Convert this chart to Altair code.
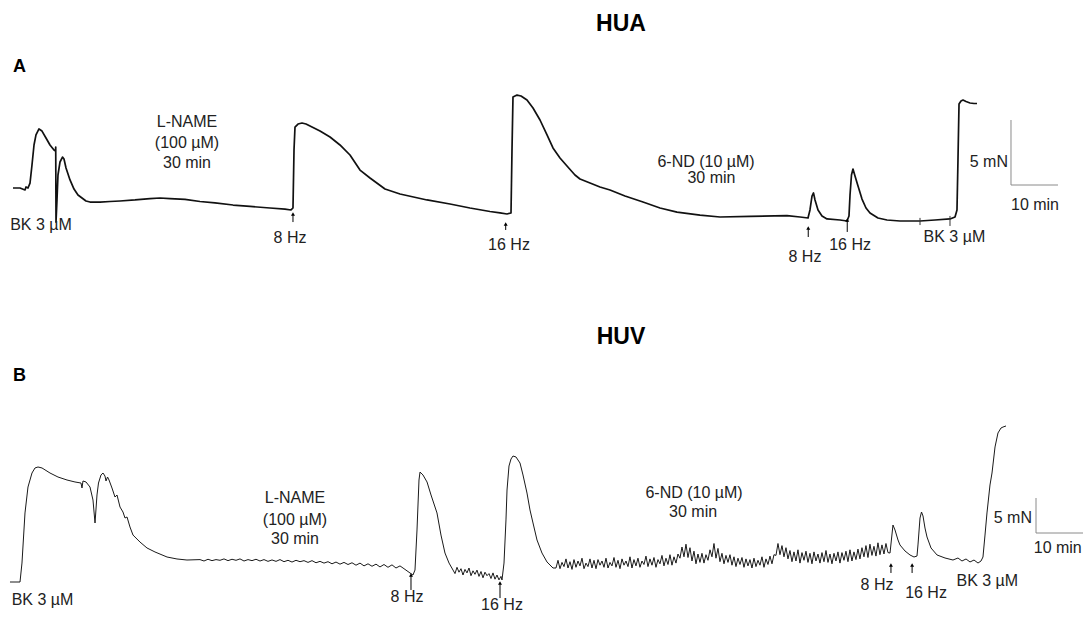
import altair as alt
import pandas as pd

# ---------------- HUA (panel A): time (min), tension (mN, relative to start) ----------------
hua_trace = [
    (0, 0), (1.49, 0), (2.55, -0.15), (2.77, 0.08), (3.19, 0), (3.62, 0.38), (4.04, 1.77),
    (4.47, 3.31), (4.89, 4.08), (5.53, 4.54), (6.17, 4.38), (7.02, 3.85), (7.87, 3.31),
    (8.72, 2.92), (9.04, 2.85), (9.09, 3.15), (9.15, -2.62), (9.36, -0.92), (9.57, 1.0),
    (10.0, 2.0), (10.53, 2.38), (10.85, 2.23), (11.28, 1.54), (12.13, 0.62), (12.98, -0.08),
    (13.83, -0.54), (14.68, -0.77), (15.53, -1.0), (16.38, -1.08), (18.51, -1.08),
    (20.64, -1.04), (22.77, -1.0), (25.96, -0.92), (29.15, -0.81), (31.28, -0.77),
    (33.40, -0.81), (36.60, -0.88), (39.79, -1.04), (42.98, -1.15), (46.81, -1.31),
    (50.43, -1.42), (54.68, -1.54), (57.87, -1.62), (59.15, -1.69), (59.57, -1.54),
    (59.79, 2.92), (60.0, 4.69), (60.64, 4.92), (61.49, 5.0), (62.34, 4.92), (63.62, 4.69),
    (65.32, 4.38), (67.45, 3.92), (69.57, 3.31), (71.70, 2.54), (73.83, 1.38), (75.96, 0.77),
    (79.15, -0.08), (82.34, -0.46), (88.09, -0.92), (92.98, -1.23), (97.23, -1.54),
    (101.49, -1.81), (103.62, -1.92), (105.11, -2.0), (105.96, -1.92), (106.17, 2.92),
    (106.38, 7.0), (107.23, 7.15), (108.09, 7.08), (109.36, 6.77), (110.64, 6.15),
    (112.13, 5.23), (113.62, 4.08), (114.89, 3.08), (116.38, 2.31), (117.87, 1.69),
    (119.57, 1.0), (120.64, 0.69), (122.77, 0.38), (124.89, 0.08), (127.02, -0.15),
    (130.21, -0.62), (134.04, -1.08), (137.66, -1.54), (141.28, -1.85), (146.17, -2.08),
    (150.43, -2.23), (156.81, -2.19), (164.68, -2.12), (167.45, -2.23), (169.15, -2.31),
    (169.57, -1.69), (170.0, -0.62), (170.32, -0.38), (170.64, -0.92), (171.28, -1.69),
    (172.13, -2.15), (173.19, -2.38), (175.96, -2.46), (177.45, -2.54), (177.87, -2.15),
    (178.09, -0.54), (178.40, 1.0), (178.72, 1.46), (179.15, 0.92), (179.79, 0.15),
    (180.64, -0.85), (181.49, -1.54), (182.34, -1.92), (184.04, -2.31), (185.96, -2.46),
    (188.72, -2.54), (192.98, -2.54), (196.17, -2.46), (199.36, -2.38), (200.43, -2.23),
    (200.85, -1.69), (201.06, 2.15), (201.28, 6.46), (201.70, 6.69), (202.13, 6.77),
    (202.77, 6.65), (203.62, 6.54), (204.47, 6.5), (205.11, 6.5),
]

hua_labels = [  # centred labels: (t, v, text)
    (5.96, -2.85, "BK 3 µM"),
    (37.02, 5.08, "L-NAME"), (37.02, 3.46, "(100 µM)"), (37.02, 1.92, "30 min"),
    (58.94, -3.85, "8 Hz"), (105.53, -4.38, "16 Hz"),
    (147.45, 2.0, "6-ND (10 µM)"), (148.6, 0.77, "30 min"),
    (168.5, -5.31, "8 Hz"), (178.1, -4.38, "16 Hz"), (200.3, -3.77, "BK 3 µM"),
    (217.45, -1.31, "10 min"),
]
hua_right_labels = [(211.7, 2.0, "5 mN")]
hua_title = [(129.36, 12.62, "HUA")]
hua_panel = [(0, 9.31, "A")]
hua_arrows = [(59.57, -2.62, -2.0), (104.83, -3.23, -2.77), (169.2, -3.77, -3.08), (177.5, -3.38, -2.46)]
hua_ticks = [(192.98, -2.85, -2.3), (199.36, -2.92, -2.15)]
hua_bar_v = [(212.34, 0.23, 5.23)]       # 5 mN
hua_bar_h = [(212.34, 222.34, 0.23)]     # 10 min

# ---------------- HUV (panel B) ----------------
huv_rise = [
    (-0.64, 0), (1.49, 0), (1.91, 2.71), (2.55, 9.86), (3.19, 13.57), (4.04, 15.57),
    (4.68, 16.29), (5.32, 16.43), (6.17, 16.29), (7.87, 15.57), (9.57, 15.0), (11.49, 14.57),
    (13.19, 14.29), (14.47, 14.14), (14.68, 13.43), (14.89, 14.43), (15.53, 14.29),
    (16.38, 13.57), (17.02, 11.71), (17.45, 8.43), (17.87, 12.43), (18.19, 14.14),
    (18.72, 15.29), (19.15, 15.57), (19.57, 15.14), (19.79, 14.43), (20.11, 15.0),
    (20.43, 14.57), (21.06, 13.43), (21.70, 12.14), (22.13, 12.43), (22.77, 10.71),
    (23.40, 10.0), (23.83, 9.14), (24.26, 9.29), (24.89, 7.86), (25.53, 6.71), (27.02, 5.71),
    (28.51, 4.86), (30.21, 4.29), (32.77, 3.57), (34.89, 3.29), (37.02, 3.14),
]
# uniformly sampled stretches of the recording: (start min, step min, values)
huv_noise1 = (39.79, 0.851, [
    3.2, 3.0, 3.25, 3.05, 3.2, 3.1, 3.3, 3.05, 3.25, 3.1,
    3.3, 3.0, 3.2, 3.05, 3.25, 3.0, 3.2, 2.95, 3.15, 2.95,
    3.2, 2.9, 3.1, 2.85, 3.1, 2.9, 3.05, 2.8, 3.05, 2.75,
    2.95, 2.7, 2.9, 2.6, 2.85, 2.55, 2.8, 2.5, 2.75, 2.4,
    2.7, 2.3, 2.6, 2.25, 2.55, 2.15, 2.5, 2.1, 2.45, 2.0,
    2.3, 1.9])
huv_8hz = [
    (84.47, 1.29), (85.1, 1.0), (85.53, 1.71), (85.96, 7.43), (86.38, 14.57), (86.6, 15.71),
    (87.23, 15.29), (88.09, 14.29), (88.94, 12.43), (90.21, 9.86), (91.06, 6.71),
    (91.91, 4.14), (92.77, 2.71), (93.62, 1.71),
]
huv_noise2 = (94.04, 0.4255, [
    1.2, 2.1, 1.4, 1.9, 1.0, 1.8, 1.3, 2.0, 0.9, 1.6, 1.1, 1.7,
    0.8, 1.5, 0.6, 1.4, 0.9, 1.2, 0.5, 1.3, 0.4, 1.0, 0.3, 0.8])
huv_16hz = [
    (104.04, 0.29), (104.47, 2.71), (104.89, 8.86), (105.11, 13.14), (105.53, 16.57),
    (105.96, 17.57), (106.38, 18.0), (107.02, 17.86), (107.87, 17.0), (108.51, 15.29),
    (109.36, 12.71), (110.0, 10.29), (110.64, 8.43), (111.49, 6.0), (112.55, 4.14),
    (113.62, 2.86), (114.89, 2.0),
]
huv_noise3 = (115.53, 0.4255, [
    2.0, 3.1, 1.9, 2.8, 2.2, 3.3, 2.0, 2.9, 1.8, 3.2,
    2.1, 3.0, 2.3, 3.4, 1.9, 2.7, 2.2, 3.3, 2.0, 3.1,
    1.9, 3.2, 2.4, 3.0, 2.1, 3.4, 2.0, 2.8, 2.3, 3.5,
    2.1, 3.1, 1.9, 3.3, 2.4, 3.0, 2.2, 3.6, 2.0, 3.2,
    2.3, 3.4, 2.1, 3.0, 2.5, 3.7, 2.2, 3.3, 2.4, 3.5,
    2.1, 3.2, 2.6, 3.8, 2.3, 3.4, 2.5, 3.9, 2.4, 3.6,
    2.7, 4.0,
    3.4, 5.0, 3.6, 5.4, 3.5, 4.9, 3.0, 4.4, 2.6, 4.0,
    2.8, 4.1, 2.7, 3.9, 3.1, 4.6, 3.6, 5.5, 3.4, 4.8,
    2.9, 4.1, 2.6, 3.8, 2.8, 3.9, 2.4, 3.6, 2.2, 3.4,
    2.5, 3.5, 2.1, 3.3, 2.3, 3.2, 2.0, 3.4, 2.2, 3.1,
    2.4, 3.6, 2.1, 3.3, 2.5, 3.7, 2.6, 3.9,
    3.8, 5.5, 3.9, 5.2, 3.6, 4.9, 3.3,
    4.5, 2.9, 4.3, 3.0, 4.6, 2.7, 4.2, 3.1, 4.4, 2.8,
    4.1, 2.6, 4.3, 3.0, 4.0, 2.7, 4.2, 2.9, 4.5, 2.8,
    4.0, 2.6, 4.1, 3.0, 4.3, 2.7, 4.2, 3.1, 4.4, 2.9,
    4.6, 3.0, 4.3, 3.2, 4.7,
    3.3, 4.9, 3.6, 5.2, 3.5, 5.4, 3.8, 5.1, 3.7, 5.6,
    3.9, 5.3, 4.0, 5.5, 4.2])
huv_end = [
    (186.6, 4.14), (187.23, 8.14), (187.66, 7.43), (188.3, 6.0), (188.72, 5.29), (189.79, 4.43),
    (190.85, 3.86), (191.70, 3.57), (192.34, 3.71), (192.55, 5.29), (192.98, 9.14),
    (193.30, 10.0), (193.62, 9.43), (194.04, 7.71), (194.47, 6.43), (195.32, 4.86),
    (196.6, 3.86), (198.3, 3.43), (200.0, 3.14), (201.06, 3.43), (201.91, 3.0), (202.77, 3.29),
    (203.62, 2.86), (204.47, 3.14), (205.32, 2.71), (205.96, 3.0), (206.38, 3.57),
    (206.81, 6.71), (207.23, 9.86), (207.87, 13.86), (208.3, 15.57), (208.94, 19.29),
    (209.57, 21.29), (210.21, 22.0), (210.64, 22.14), (211.28, 22.29),
]

huv_labels = [
    (6.28, -2.57, "BK 3 µM"),
    (60.0, 12.0, "L-NAME"), (60.0, 8.86, "(100 µM)"), (60.0, 6.14, "30 min"),
    (83.83, -2.14, "8 Hz"),
    (144.9, 12.71, "6-ND (10 µM)"), (144.7, 10.0, "30 min"),
    (183.83, -0.43, "8 Hz"), (194.26, -1.57, "16 Hz"), (207.3, 0.14, "BK 3 µM"),
]
huv_bottom_labels = [(104.04, -4.45, "16 Hz")]
huv_right_labels = [(216.8, 9.14, "5 mN"), (227.4, 4.86, "10 min")]
huv_title = [(129.36, 35.0, "HUV")]
huv_panel = [(0, 29.43, "B")]
huv_arrows = [(84.68, -1.14, 1.0), (103.62, -2.29, -0.14), (186.8, 1.29, 2.43), (191.3, 1.29, 2.43)]
huv_ticks = []
huv_bar_v = [(217.66, 7.0, 12.0)]
huv_bar_h = [(217.66, 227.66, 7.0)]

FONT = "Liberation Sans"
X_SCALE = alt.Scale(domain=[-1.064, 227.66], nice=False, zero=False)


def sampled(seg):
    start, step, vals = seg
    return [(start + i * step, v) for i, v in enumerate(vals)]


def text_df(rows):
    return pd.DataFrame(rows, columns=["t", "v", "label"])


def build_panel(trace, ydom, width, labels, right_labels, bottom_labels, title, panel,
                arrows, ticks, bar_v, bar_h, line_color):
    ys = alt.Scale(domain=ydom, nice=False, zero=False)
    X = lambda: alt.X("t:Q", scale=X_SCALE, axis=None)
    Y = lambda: alt.Y("v:Q", scale=ys, axis=None)

    tr = pd.DataFrame(trace, columns=["t", "v"])
    tr["i"] = range(len(tr))
    layers = [
        alt.Chart(tr).mark_line(color=line_color, strokeWidth=width, strokeJoin="round")
        .encode(x=X(), y=Y(), order="i:Q")
    ]

    def txt(rows, **kw):
        base = dict(font=FONT, fontSize=16, color="#222222")
        base.update(kw)
        return alt.Chart(text_df(rows)).mark_text(**base).encode(x=X(), y=Y(), text="label:N")

    layers.append(txt(labels, align="center", baseline="middle"))
    if right_labels:
        layers.append(txt(right_labels, align="right", baseline="middle"))
    if bottom_labels:
        layers.append(txt(bottom_labels, align="center", baseline="bottom"))
    layers.append(txt(title, align="center", baseline="middle", fontSize=23, fontWeight="bold", color="black"))
    layers.append(txt(panel, align="left", baseline="middle", fontSize=18, fontWeight="bold", color="black"))

    ar = pd.DataFrame(arrows, columns=["t", "v", "v2"])
    layers.append(alt.Chart(ar).mark_rule(color="black", strokeWidth=1)
                  .encode(x=X(), y=Y(), y2="v2:Q"))
    layers.append(alt.Chart(ar).mark_point(shape="triangle-up", filled=True, size=16, color="black", opacity=1)
                  .encode(x=X(), y=alt.Y("v2:Q", scale=ys, axis=None)))
    if ticks:
        tk = pd.DataFrame(ticks, columns=["t", "v", "v2"])
        layers.append(alt.Chart(tk).mark_rule(color="#333333", strokeWidth=1)
                      .encode(x=X(), y=Y(), y2="v2:Q"))

    bv = pd.DataFrame(bar_v, columns=["t", "v", "v2"])
    layers.append(alt.Chart(bv).mark_rule(color="#8a8a8a", strokeWidth=1)
                  .encode(x=X(), y=Y(), y2="v2:Q"))
    bh = pd.DataFrame(bar_h, columns=["t", "t2", "v"])
    layers.append(alt.Chart(bh).mark_rule(color="#8a8a8a", strokeWidth=1)
                  .encode(x=X(), x2="t2:Q", y=Y()))
    return alt.layer(*layers)


panel_a = build_panel(hua_trace, [-32.769, 13.846], 1.7, hua_labels, hua_right_labels, None,
                      hua_title, hua_panel, hua_arrows, hua_ticks, hua_bar_v, hua_bar_h, "#111111")

huv_trace = (huv_rise + sampled(huv_noise1) + huv_8hz + sampled(huv_noise2)
             + huv_16hz + sampled(huv_noise3) + huv_end)
panel_b = build_panel(huv_trace, [-4.571, 82.0], 1.0, huv_labels, huv_right_labels, huv_bottom_labels,
                      huv_title, huv_panel, huv_arrows, huv_ticks, huv_bar_v, huv_bar_h, "#1a1a1a")

chart = (
    alt.layer(panel_a, panel_b)
    .resolve_scale(y="independent")
    .properties(width=1075, height=606, padding=0, autosize=alt.AutoSizeParams(type="none"))
    .configure_view(strokeWidth=0)
)

chart.save("out.html", embed_options={"renderer": "svg", "actions": False})
